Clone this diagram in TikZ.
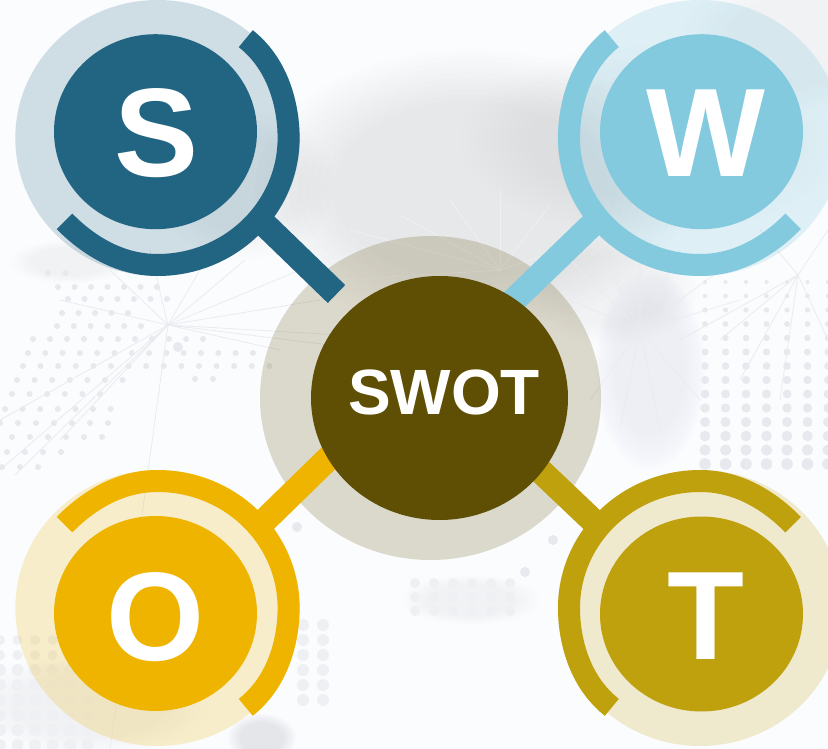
\documentclass[tikz,border=0pt]{standalone}
\usepackage{fontspec}
\setmainfont{Liberation Sans}
\usetikzlibrary{shapes.geometric}
\definecolor{cS}{HTML}{216583}
\definecolor{cW}{HTML}{83CADF}
\definecolor{cO}{HTML}{EFB400}
\definecolor{cT}{HTML}{BFA00D}
\definecolor{cH}{HTML}{5F4F04}
\definecolor{bgc}{HTML}{FBFCFE}
\definecolor{cloud}{HTML}{B4B8C0}
\definecolor{dotc}{HTML}{E7E9EE}
\definecolor{dotd}{HTML}{EEF0F4}
\definecolor{netc}{HTML}{E9EBEF}
\tikzset{
  halo/.style={ellipse,inner sep=0pt,minimum width=284.6pt,minimum height=276pt,fill=#1,fill opacity=.2},
  disc/.style={ellipse,inner sep=0pt,minimum width=203pt,minimum height=195pt,fill=#1},
  band/.style={draw=#1,line width=22pt,line cap=butt},
  stem/.style={draw=#1,line width=25pt,line cap=butt},
  letter/.style={text=white,inner sep=0pt,font=\bfseries\fontsize{126}{126}\selectfont,text height=92pt,text depth=0pt},
  netline/.style={draw=netc,line width=.8pt}
}
\newcommand\softblob[5]{% x y rx ry per-layer opacity
  \foreach \k in {1.0,0.96,0.92,0.88,0.84,0.80,0.76,0.72,0.68,0.64}{
    \fill[cloud,fill opacity=#5] (#1,#2) ellipse [x radius=\k*#3,y radius=\k*#4];
  }}
\newcommand\dotrow[6][dotc]{% colour; y x0 x1 dx r
  \pgfmathsetmacro\nextx{#3+#5}
  \foreach \xx in {#3,\nextx,...,#4}{\fill[#1] (\xx,#2) circle[radius=#6];}}
% cx cy from to colour shiftx shifty sign: the band is an ellipse skewed towards its free ends
\newcommand\ringband[8]{%
  \draw[band=#5,smooth] plot[domain=#3:#4,samples=70,variable=\t]
   ({#1+131*cos(\t)+#6*max(0,#8*sin(2*\t))*max(0,#8*sin(2*\t))},
    {#2+127*sin(\t)+#7*max(0,#8*sin(2*\t))*max(0,#8*sin(2*\t))});}
\begin{document}
\begin{tikzpicture}[x=1pt,y=-1pt]
\path[use as bounding box,clip] (0,0) rectangle (828,749);
\fill[bgc] (0,0) rectangle (828,749);
% soft background
\softblob{470}{190}{215}{140}{.027}
\softblob{650}{140}{190}{95}{.004}
\softblob{810}{40}{130}{70}{.012}
\softblob{245}{185}{90}{75}{.012}
\softblob{650}{370}{55}{100}{.016}
\softblob{610}{290}{90}{55}{.008}
\softblob{70}{262}{60}{22}{.003}
\softblob{90}{705}{120}{50}{.010}
\softblob{262}{738}{34}{24}{.03}
\softblob{470}{600}{70}{25}{.004}
% dot fields
\dotrow{273}{48}{77}{17.3}{3}
\dotrow{287}{58}{173}{16.5}{3}
\dotrow{299}{68}{168}{16.5}{3}
\dotrow{313}{62}{130}{16.5}{3}
\dotrow{326}{57}{142}{16.8}{3}
\dotrow{339}{33}{207}{17}{3}
\dotrow{353}{28}{258}{17.3}{3}
\dotrow{366}{23}{272}{17.6}{3}
\dotrow{380}{17}{140}{17.6}{3}
\dotrow{379}{195}{213}{18}{3}
\dotrow{394}{12}{117}{17.6}{3}
\dotrow{409}{5}{112}{17.6}{3}
\dotrow{423}{0}{125}{18}{3}
\dotrow{437}{12}{102}{18}{3}
\dotrow{452}{7}{78}{18}{3}
\dotrow{467}{2}{55}{18}{3}
\foreach \yy/\rr in {282/2,296/2.3,310/2.6,324/2.9,338/3.2,352/3.5,366/3.8,380/4.1,394/4.4,408/4.7,422/5,436/5.3,450/5.6,464/5.8}{
  \dotrow{\yy}{705}{828}{20.5}{\rr}
}
\foreach \yy/\rr in {640/5,655/5,670/6,685/6,700/6,715/6,730/6,745/6}{
  \dotrow[dotd]{\yy}{0}{100}{17.5}{\rr}
}
\foreach \yy in {625,640,655,670,685,700}{\dotrow[dotd]{\yy}{303}{325}{20}{6}}
\foreach \yy in {583,597,611}{\dotrow[dotd]{\yy}{415}{525}{19}{5}}
\fill[dotc] (297,527) circle[radius=5] (525,572) circle[radius=5] (553,540) circle[radius=5] (178,347) circle[radius=5];
% network lines
\coordinate (netA) at (168,325);
\foreach \ex/\ey in {0/420,0/470,15/475,110/749,60/300,110/270,150/250,200/270,245/260,300/270,320/300,330/345,340/335,280/350,60/440}{
  \draw[netline] (netA) -- (\ex,\ey);
}
\coordinate (netB) at (798,275);
\foreach \ex/\ey in {720/340,740/380,828/340,780/400,680/340,828/230,760/230}{
  \draw[netline] (netB) -- (\ex,\ey);
}
\coordinate (netC) at (640,330);
\foreach \ex/\ey in {570/260,600/250,640/240,680/250,720/270,740/300,570/300,590/400,620/430,660/430,700/400}{
  \draw[netline,line width=1.2pt,opacity=.6] (netC) -- (\ex,\ey);
}
\coordinate (netD) at (500,270);
\foreach \ex/\ey in {350/230,400/215,450/200,500/190,550/205,590/240,340/280}{
  \draw[netline,draw=white,opacity=.35] (netD) -- (\ex,\ey);
}
% central halo
\node[halo=cH,minimum width=341pt,minimum height=324pt] (hubhalo) at (430.5,398) {};
% halos
\node[halo=cS] (Shalo) at (157.6,138) {};
\node[halo=cW,fill opacity=.24] (Whalo) at (700,138) {};
\node[halo=cO] (Ohalo) at (157.6,608) {};
\node[halo=cT] (Thalo) at (700,608) {};
% connectors
\coordinate (Sa) at (258,218);
\coordinate (Sb) at (336.5,294);
\coordinate (Wa) at (599.5,217.5);
\coordinate (Wb) at (510,304);
\coordinate (Oa) at (258,527);
\coordinate (Ob) at (340,447);
\coordinate (Ta) at (599.5,527);
\coordinate (Tb) at (530,461);
\draw[stem=cS] (Sa) -- (Sb);
\draw[stem=cW] (Wa) -- (Wb);
\draw[stem=cO] (Oa) -- (Ob);
\draw[stem=cT] (Ta) -- (Tb);
% rings
\ringband{157.6}{138}{-49.4}{137.2}{cS}{3}{-3}{-1}
\ringband{700}{138}{42.8}{229.4}{cW}{-3}{-3}{1}
\ringband{157.6}{608}{-137.2}{49.4}{cO}{3}{3}{1}
\ringband{700}{608}{130.6}{317.2}{cT}{-3}{3}{-1}
% discs
\node[disc=cS] (Sdisc) at (155.5,131.7) {};
\node[disc=cW] (Wdisc) at (701.5,131.7) {};
\node[disc=cO] (Odisc) at (155.5,613.5) {};
\node[disc=cT] (Tdisc) at (701.5,614) {};
\node[ellipse,inner sep=0pt,minimum width=257pt,minimum height=244pt,fill=cH] (hub) at (439.5,398) {};
% labels
\node[letter] (Stext) at (156.5,130.5) {S};
\node[letter] (Wtext) at (705.5,131) {W};
\node[letter] (Otext) at (155.5,614.5) {O};
\node[letter] (Ttext) at (705.5,613.5) {T};
\node[text=white,inner sep=0pt,font=\bfseries\fontsize{64}{64}\selectfont,text height=47pt,text depth=0pt] (Htext) at (444,390.5) {SWOT};
\end{tikzpicture}
\end{document}
